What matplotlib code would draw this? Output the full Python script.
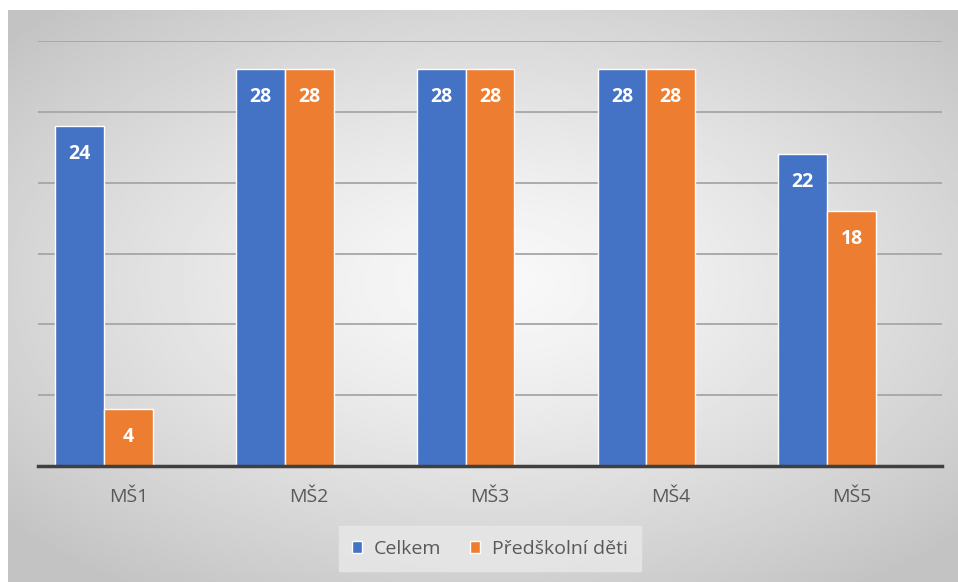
import matplotlib.pyplot as plt
import numpy as np

# data
categories = ["MŠ1", "MŠ2", "MŠ3", "MŠ4", "MŠ5"]
celkem = [24, 28, 28, 28, 22]
predskolni = [4, 28, 28, 28, 18]
series_names = ["Celkem", "Předškolní děti"]

BLUE = "#4472C4"
ORANGE = "#ED7D31"
TEXT = "#595959"

plt.rcParams['font.family'] = ['Open Sans', 'DejaVu Sans']

fig = plt.figure(figsize=(9.58, 5.82), dpi=100)
fig.patch.set_facecolor("white")

# chart area with radial gradient background
bg = fig.add_axes([8 / 958, 0, 1 - 8 / 958, 1 - 10 / 582])
yy, xx = np.mgrid[-1:1:300j, -1:1:500j]
r = np.sqrt(((xx - 0.02) * 0.95) ** 2 + ((yy - 0.05) * 1.0) ** 2)
shade = 0.975 - 0.21 * np.clip(r / 1.3, 0, 1) ** 1.3
bg.imshow(shade, cmap="gray", vmin=0, vmax=1, aspect="auto",
          extent=[0, 1, 0, 1], origin="lower")
bg.set_axis_off()

ax = fig.add_axes([38 / 958, 1 - 466 / 582, 904 / 958, (466 - 41) / 582])
ax.patch.set_alpha(0)

x = np.arange(len(categories))
w = 0.27
# the original reserves room for a third (empty) bar slot in each group
b1 = ax.bar(x - w, celkem, w, color=BLUE, edgecolor="white", linewidth=1.0,
            label=series_names[0], zorder=3)
b2 = ax.bar(x, predskolni, w, color=ORANGE, edgecolor="white", linewidth=1.0,
            label=series_names[1], zorder=3)

for bars in (b1, b2):
    for rect in bars:
        h = rect.get_height()
        ax.annotate(f"{h:g}", (rect.get_x() + rect.get_width() / 2, h),
                    xytext=(0, -20), textcoords="offset points",
                    ha="center", va="center", color="white",
                    fontsize=14, fontweight="bold", zorder=4)

ax.set_xlim(-0.5, len(categories) - 0.5)
ax.set_ylim(0, 30)
ax.set_yticks(np.arange(0, 31, 5))
ax.yaxis.grid(True, color="#a6a6a6", linewidth=1.3, zorder=1)
ax.set_yticklabels([])
ax.tick_params(axis="y", length=0)
ax.set_xticks(x)
ax.set_xticklabels(categories, fontsize=14, color=TEXT)
ax.tick_params(axis="x", length=0, pad=16)

for side in ("top", "right", "left"):
    ax.spines[side].set_visible(False)
ax.spines["bottom"].set_color("#404040")
ax.spines["bottom"].set_linewidth(2.5)
ax.spines["bottom"].set_zorder(5)

leg = ax.legend(loc="center", bbox_to_anchor=(0.5, -0.195), ncol=2, frameon=True,
                fontsize=14, handlelength=0.5, handleheight=0.5, handletextpad=0.6,
                columnspacing=1.5, borderpad=0.7, borderaxespad=0,
                fancybox=False)
leg.get_frame().set_facecolor("#e6e6e6")
leg.get_frame().set_edgecolor("#e6e6e6")
leg.get_frame().set_alpha(0.9)
for t in leg.get_texts():
    t.set_color(TEXT)

fig.savefig("out.png", dpi=100)
